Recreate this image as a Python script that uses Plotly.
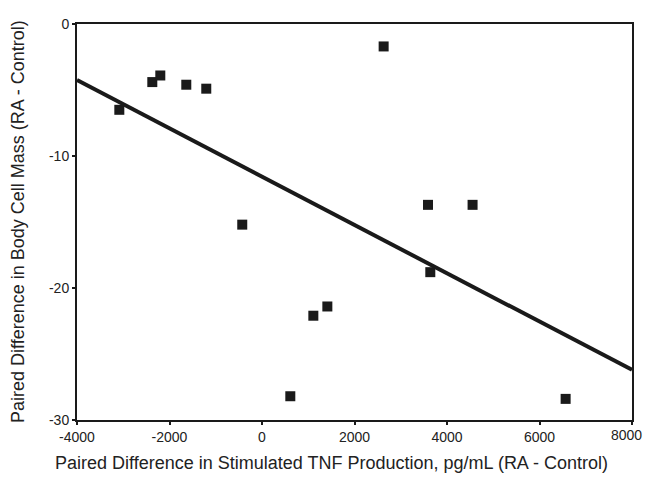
import plotly.graph_objects as go

# Data
tnf_diff = [-3085, -2372, -2199, -1637, -1205, 2630, -427, 612, 1110, 1413, 3589, 4553, 3639, 6565]
bcm_diff = [-6.5, -4.4, -3.9, -4.6, -4.9, -1.7, -15.2, -28.2, -22.1, -21.4, -13.7, -13.7, -18.8, -28.4]

fit_x = [-4000, 8000]
fit_y = [-4.25, -26.2]

x_ticks = [-4000, -2000, 0, 2000, 4000, 6000, 8000]
y_ticks = [-30, -20, -10, 0]

x_title = "Paired Difference in Stimulated TNF Production, pg/mL (RA - Control)"
y_title = "Paired Difference in Body Cell Mass (RA - Control)"

ink = "#1a1a1a"
font_family = "Liberation Sans, Arial, sans-serif"
tick_font = dict(family=font_family, size=14, color="#222")

fig = go.Figure()
fig.add_trace(go.Scatter(
    x=fit_x, y=fit_y, mode="lines",
    line=dict(color=ink, width=4), showlegend=False, hoverinfo="skip"))
fig.add_trace(go.Scatter(
    x=tnf_diff, y=bcm_diff, mode="markers",
    marker=dict(symbol="square", size=10, color=ink, line=dict(width=0)),
    showlegend=False))

axis_common = dict(
    showgrid=False, zeroline=False, showline=True, linecolor=ink, linewidth=2,
    mirror=True, ticks="outside", ticklen=3, tickwidth=2, tickcolor=ink,
    tickfont=tick_font, ticklabeloverflow="allow", automargin=False,
)

# last x tick label is drawn as an annotation, nudged left so it stays inside the page
x_ticktext = [str(v) for v in x_ticks[:-1]] + [""]

fig.update_xaxes(range=[-4000, 8000], tickvals=x_ticks,
                 ticktext=x_ticktext, **axis_common)
fig.update_yaxes(range=[-30, 0], tickvals=y_ticks,
                 ticktext=[str(v) for v in y_ticks], **axis_common)

fig.update_layout(
    template="none",
    width=645, height=491,
    margin=dict(l=77, r=13, t=24, b=71),
    plot_bgcolor="white", paper_bgcolor="white",
    font=dict(family=font_family, color="#222"),
    annotations=[
        dict(text=str(x_ticks[-1]), xref="x", yref="paper", x=x_ticks[-1], y=0,
             xanchor="right", xshift=12, yanchor="top", yshift=-5,
             showarrow=False, font=tick_font),
        dict(text=x_title, xref="paper", yref="paper", x=0.459, y=0,
             yshift=-43, showarrow=False, yanchor="middle", xanchor="center",
             font=dict(size=18, family=font_family, color="#222")),
        dict(text=y_title, xref="paper", yref="paper", x=0, y=0.5,
             xshift=-59, showarrow=False, textangle=-90,
             xanchor="center", yanchor="middle",
             font=dict(size=18, family=font_family, color="#222")),
    ],
)

fig.write_html(
    "out.html",
    config={"displayModeBar": False},
    post_script="document.body.style.margin='0';document.body.style.overflow='hidden';",
)
